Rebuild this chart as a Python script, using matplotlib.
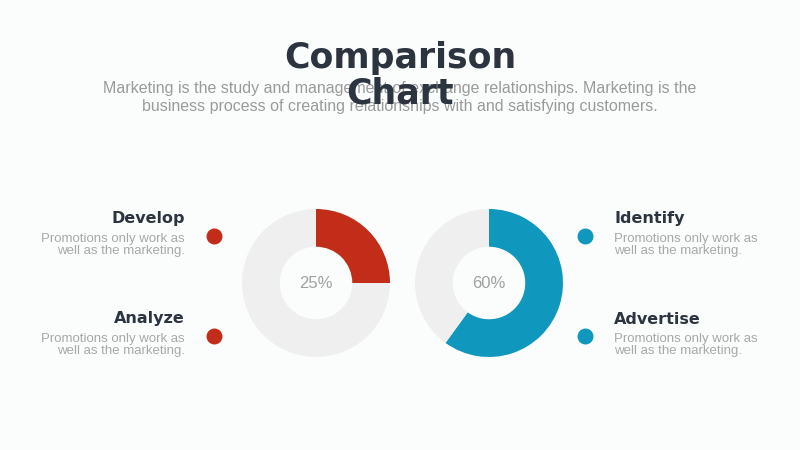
import matplotlib
matplotlib.use("Agg")
import matplotlib.pyplot as plt

plt.rcParams['font.family'] = ['Liberation Sans', 'DejaVu Sans']

title = "Comparison\nChart"
subtitle = ["Marketing is the study and management of exchange relationships. Marketing is the",
            "business process of creating relationships with and satisfying customers."]
shares = [25, 60]
share_labels = ["25%", "60%"]
colors = ["#c22d19", "#0f97bd"]
left_heads = ["Develop", "Analyze"]
right_heads = ["Identify", "Advertise"]
body = "Promotions only work as\nwell as the marketing."

fig = plt.figure(figsize=(8, 4.5), dpi=100)
fig.patch.set_facecolor("#fbfdfd")
bg = fig.add_axes([0, 0, 1, 1])
bg.set_xlim(0, 800); bg.set_ylim(450, 0); bg.axis("off")

for i, s in enumerate(subtitle):
    bg.text(400, 89 + 18 * i, s, ha="center", va="center", fontsize=11.5, color="#9a9a9a")
bg.text(400, 76, title, ha="center", va="center", fontsize=25, fontweight="heavy",
        color="#2c3440", family="DejaVu Sans", linespacing=1.05)

centers = [316, 489]
for cx, v, lab, c in zip(centers, shares, share_labels, colors):
    r = 74
    ax = fig.add_axes([(cx - r) / 800, 1 - (283 + r) / 450, 2 * r / 800, 2 * r / 450])
    ax.pie([v, 100 - v], colors=[c, "#efefef"], startangle=90, counterclock=False,
           radius=1, wedgeprops=dict(width=0.51, linewidth=0))
    ax.set_xlim(-1, 1); ax.set_ylim(-1, 1)
    ax.set_aspect("equal")
    ax.text(0, 0, lab, ha="center", va="center", fontsize=12, color="#a0a0a0")

for y, h in zip([219, 319], left_heads):
    bg.text(185, y, h, ha="right", va="center", fontsize=11.5, fontweight="heavy",
            color="#2c3440", family="DejaVu Sans")
    bg.text(185, y + 26, body, ha="right", va="center", fontsize=9.5, color="#a8a8a8", linespacing=1.1)
    bg.scatter([214], [y + 17], s=110, color=colors[0], zorder=3)
for y, h in zip([219, 319], right_heads):
    bg.text(614, y, h, ha="left", va="center", fontsize=11.5, fontweight="heavy",
            color="#2c3440", family="DejaVu Sans")
    bg.text(614, y + 26, body, ha="left", va="center", fontsize=9.5, color="#a8a8a8", linespacing=1.1)
    bg.scatter([585], [y + 17], s=110, color=colors[1], zorder=3)

fig.savefig("out.png", dpi=100, facecolor=fig.get_facecolor())
